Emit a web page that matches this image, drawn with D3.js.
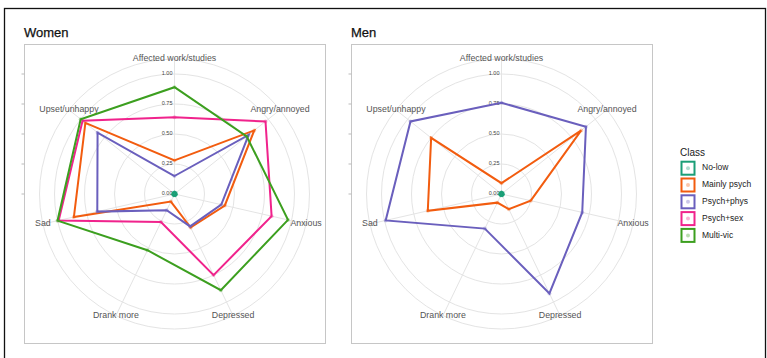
<!DOCTYPE html>
<html>
<head>
<meta charset="utf-8">
<script src="https://cdn.jsdelivr.net/npm/d3@7"></script>
<style>
  html, body { margin: 0; padding: 0; background: #fff; }
  svg { display: block; font-family: "Liberation Sans", Arial, sans-serif; }
</style>
</head>
<body>
<svg id="chart" width="767" height="358"></svg>
<script>
// Axes of the radar, clockwise from the top
const categories = ["Affected work/studies", "Angry/annoyed", "Anxious", "Depressed",
                    "Drank more", "Sad", "Upset/unhappy"];
const classes = ["No-low", "Mainly psych", "Psych+phys", "Psych+sex", "Multi-vic"];
const classColors = ["#1b9e77", "#f25c0f", "#6a5fbd", "#f0238c", "#3c9f1f"];
const radialTicks = [0, 0.25, 0.5, 0.75, 1];
const radialTickLabels = ["0.00", "0.25", "0.50", "0.75", "1.00"];

// Women: proportion per class on each axis
const womenNoLow       = [0.015, 0.015, 0.015, 0.015, 0.015, 0.015, 0.015];
const womenMainlyPsych = [0.28, 0.85, 0.43, 0.31, 0.07, 0.86, 0.95];
const womenPsychPhys   = [0.15, 0.79, 0.40, 0.30, 0.15, 0.66, 0.82];
const womenPsychSex    = [0.64, 0.97, 0.83, 0.75, 0.26, 0.99, 0.98];
const womenMultiVic    = [0.89, 0.77, 0.97, 0.89, 0.52, 1.00, 1.00];

// Men: proportion per class on each axis
const menNoLow       = [0.015, 0.015, 0.015, 0.015, 0.015, 0.015, 0.015];
const menMainlyPsych = [0.09, 0.85, 0.25, 0.14, 0.08, 0.63, 0.75];
const menPsychPhys   = [0.76, 0.90, 0.69, 0.92, 0.32, 0.99, 0.97];

const panels = [
  { title: "Women", x: 24, series: [womenNoLow, womenMainlyPsych, womenPsychPhys, womenPsychSex, womenMultiVic] },
  { title: "Men",   x: 351, series: [menNoLow, menMainlyPsych, menPsychPhys, null, null] }
];

const svg = d3.select("#chart");

// outer frame
svg.append("rect")
  .attr("x", 4.5).attr("y", 8.5).attr("width", 761).attr("height", 360)
  .attr("fill", "none").attr("stroke", "#111").attr("stroke-width", 1.3);

const panelW = 301, panelH = 299, panelY = 44;
const r = d3.scaleLinear().domain([0, 1]).range([0, 120]);
const outerR = 135;
const angle = d3.scalePoint().domain(categories).range([0, 2 * Math.PI * (categories.length - 1) / categories.length]);

panels.forEach(p => {
  const g = svg.append("g");
  const cx = p.x + panelW / 2, cy = panelY + panelH / 2 + 0.5;

  g.append("text")
    .attr("x", p.x).attr("y", 37)
    .attr("font-size", 13).attr("fill", "#111")
    .attr("stroke", "#111").attr("stroke-width", 0.25)
    .text(p.title);

  g.append("rect")
    .attr("x", p.x + 0.5).attr("y", panelY + 0.5)
    .attr("width", panelW).attr("height", panelH)
    .attr("fill", "#fff").attr("stroke", "#c6c6c6").attr("stroke-width", 1);

  // left-edge radial ticks
  g.selectAll(".ytick").data(radialTicks).join("line")
    .attr("x1", p.x - 2.5).attr("x2", p.x + 0.5)
    .attr("y1", d => cy - r(d)).attr("y2", d => cy - r(d))
    .attr("stroke", "#bbb").attr("stroke-width", 1);

  const plot = g.append("g").attr("transform", `translate(${cx},${cy})`);

  // circular grid
  plot.selectAll(".ring").data(radialTicks.filter(d => d > 0).map(r).concat([outerR])).join("circle")
    .attr("r", d => d).attr("fill", "none").attr("stroke", "#e4e4e4").attr("stroke-width", 1);

  // spokes
  plot.selectAll(".spoke").data(categories).join("line")
    .attr("x1", 0).attr("y1", 0)
    .attr("x2", d => outerR * Math.sin(angle(d)))
    .attr("y2", d => -outerR * Math.cos(angle(d)))
    .attr("stroke", "#e4e4e4").attr("stroke-width", 1);

  // radial value labels
  plot.selectAll(".rlab").data(radialTicks).join("text")
    .attr("x", -2).attr("y", d => -r(d))
    .attr("text-anchor", "end").attr("dominant-baseline", "middle")
    .attr("font-size", 5.5).attr("fill", "#444")
    .text((d, i) => radialTickLabels[i]);

  // category labels
  plot.selectAll(".clab").data(categories).join("text")
    .attr("x", d => outerR * Math.sin(angle(d)))
    .attr("y", d => -outerR * Math.cos(angle(d)))
    .attr("text-anchor", "middle").attr("dominant-baseline", "middle")
    .attr("font-size", 8.8).attr("fill", "#555")
    .text(d => d);

  const line = d3.lineRadial()
    .angle((d, i) => angle(categories[i]))
    .radius(d => r(d))
    .curve(d3.curveLinearClosed);

  p.series.forEach((vals, k) => {
    if (!vals) return;
    plot.append("path")
      .attr("d", line(vals))
      .attr("fill", "none").attr("stroke", classColors[k])
      .attr("stroke-width", 2).attr("stroke-linejoin", "miter");
    plot.selectAll(null).data(vals).join("circle")
      .attr("cx", (d, i) => r(d) * Math.sin(angle(categories[i])))
      .attr("cy", (d, i) => -r(d) * Math.cos(angle(categories[i])))
      .attr("r", k === 0 ? 1.6 : 2)
      .attr("fill", classColors[k]).attr("opacity", k === 0 ? 0.9 : 0.3);
  });
});

// legend
const lg = svg.append("g").attr("transform", "translate(681,0)");
lg.append("text").attr("x", -1).attr("y", 156)
  .attr("font-size", 10).attr("fill", "#1a1a1a").text("Class");
const rows = lg.selectAll(".key").data(classes).join("g")
  .attr("transform", (d, i) => `translate(0,${168.2 + i * 16.8})`);
rows.append("rect")
  .attr("x", 0.5).attr("y", -6.5).attr("width", 13).attr("height", 13)
  .attr("fill", "#fff").attr("stroke", (d, i) => classColors[i]).attr("stroke-width", 2);
rows.append("circle")
  .attr("cx", 7).attr("cy", 0).attr("r", 2)
  .attr("fill", (d, i) => classColors[i]).attr("opacity", 0.35);
rows.append("text")
  .attr("x", 21).attr("y", 0).attr("dominant-baseline", "middle")
  .attr("font-size", 8.5).attr("fill", "#222").text(d => d);
</script>
</body>
</html>
